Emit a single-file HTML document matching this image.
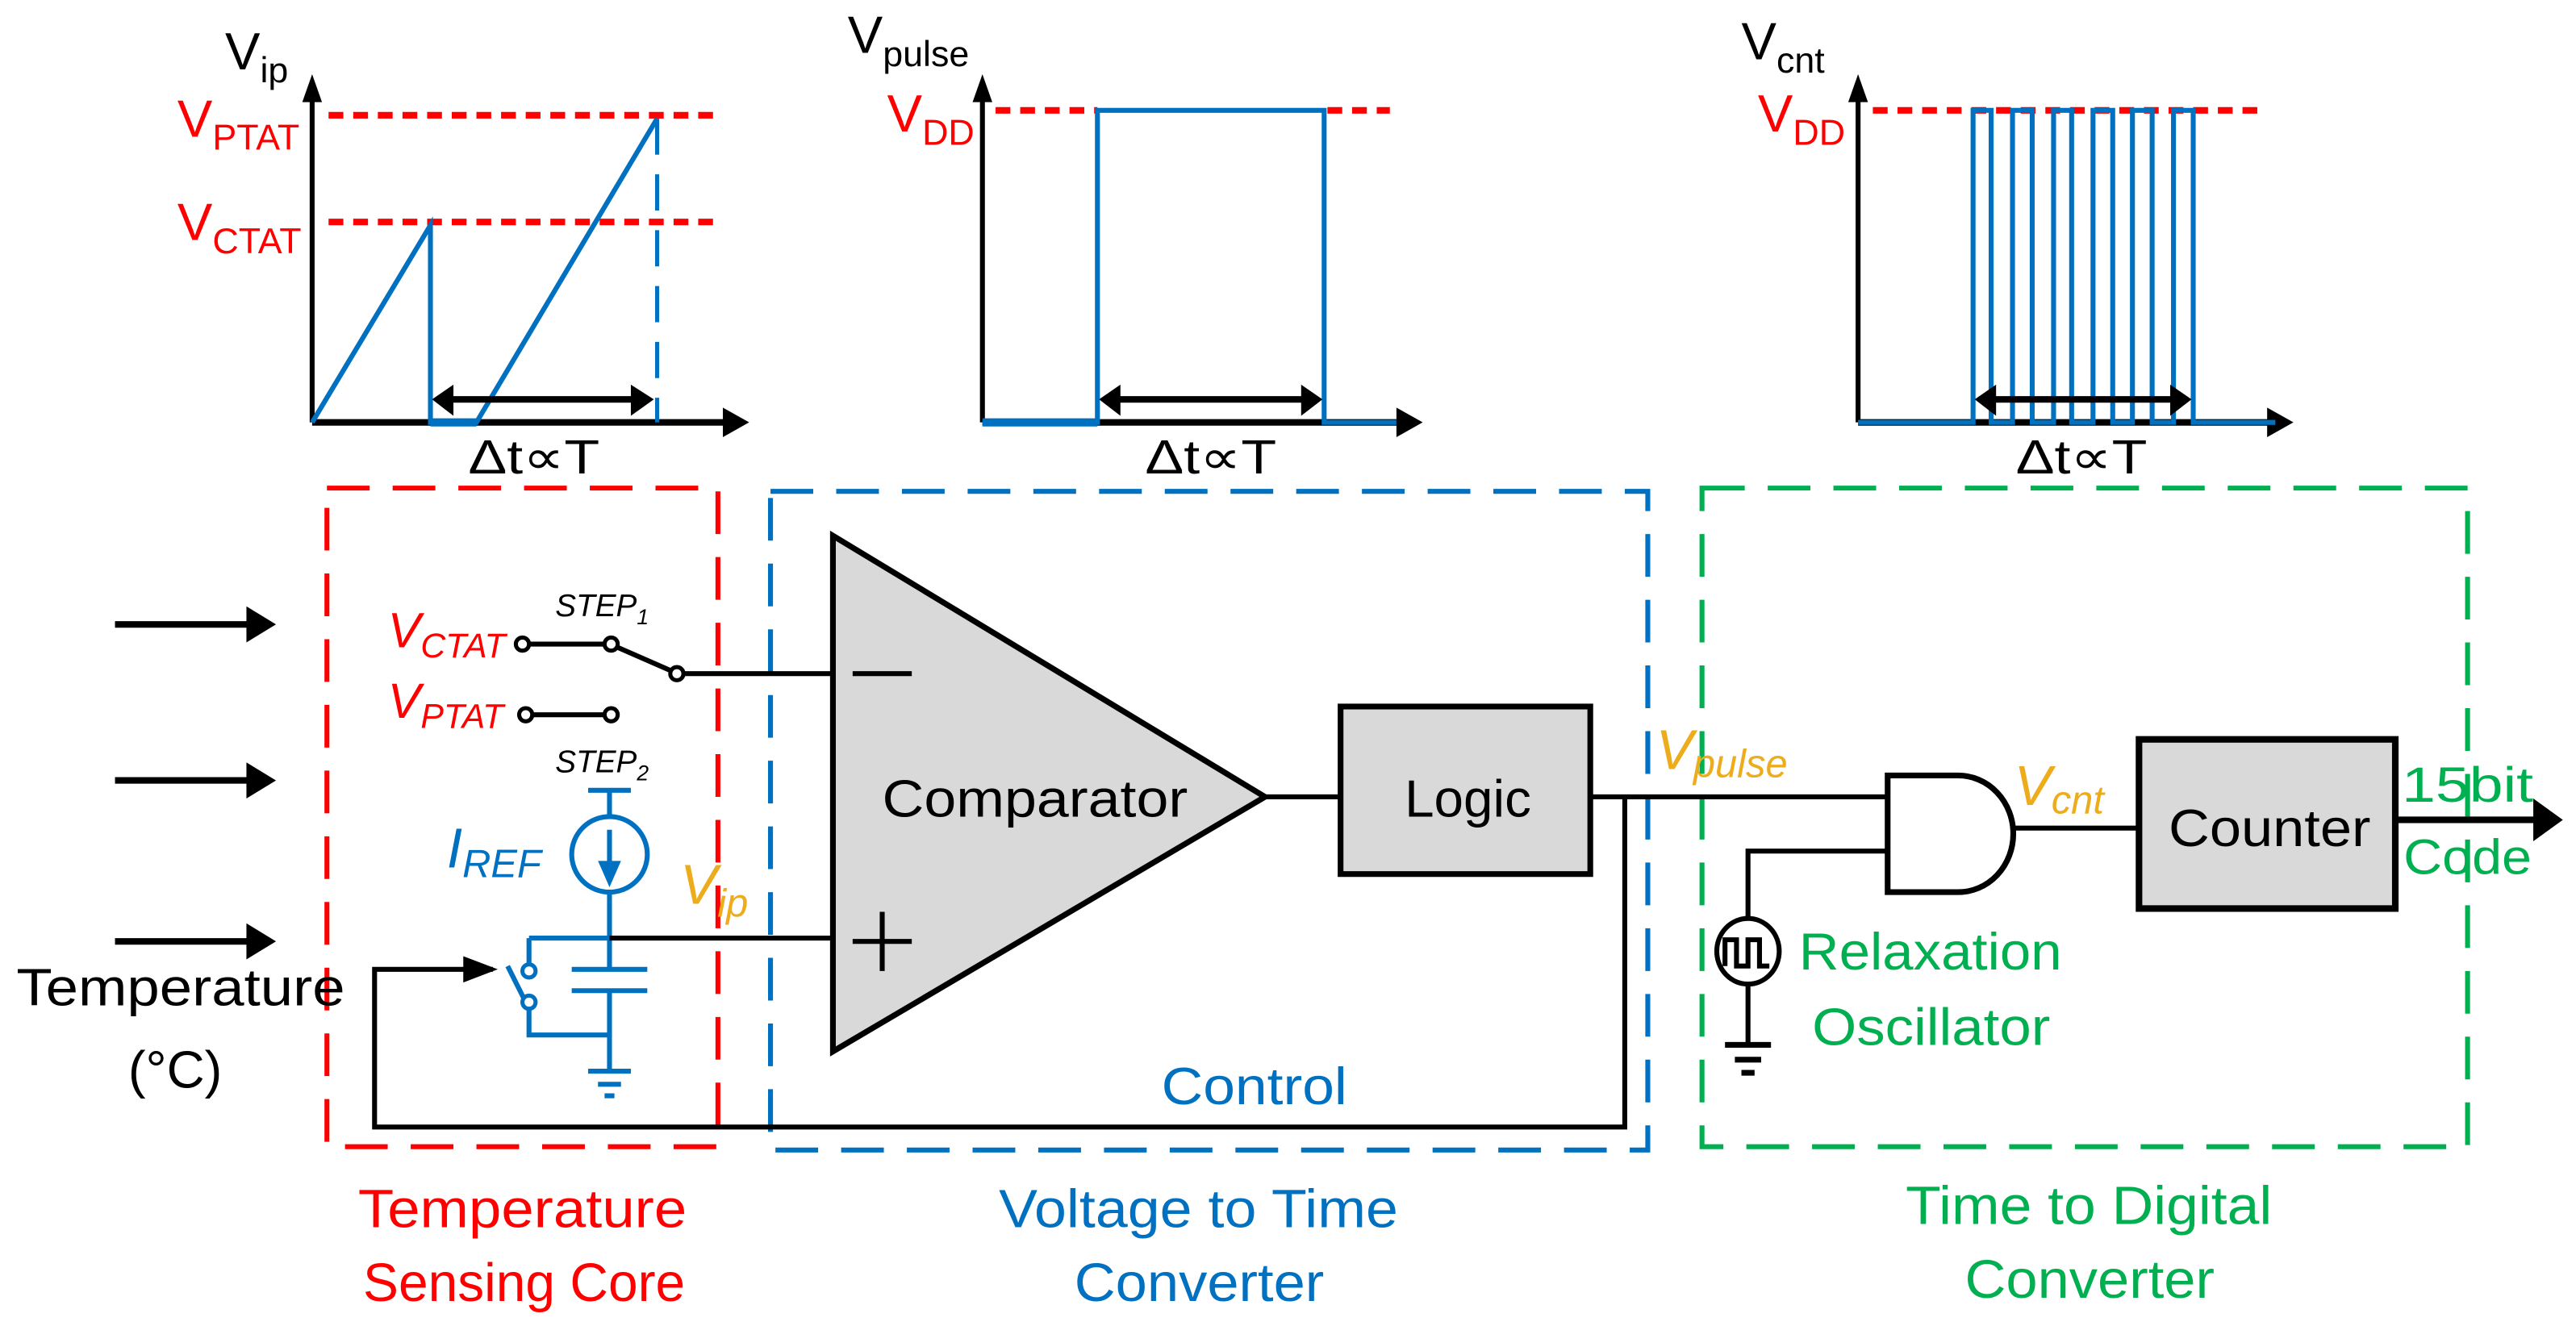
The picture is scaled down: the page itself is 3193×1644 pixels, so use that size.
<!DOCTYPE html>
<html><head><meta charset="utf-8"><style>
html,body{margin:0;padding:0;background:#fff;}
svg{display:block;}
text{font-family:"Liberation Sans",sans-serif;}
</style></head><body>
<svg width="3193" height="1644" viewBox="0 0 1568 807" xmlns="http://www.w3.org/2000/svg">
<g fill="none" stroke-linecap="butt">
<!-- Graph 1 -->
<line x1="190" y1="257" x2="190" y2="58" stroke="#000" stroke-width="3"/>
<path d="M184,62 L190,45 L196,62 z" fill="#000"/>
<line x1="190" y1="257" x2="442" y2="257" stroke="#000" stroke-width="4"/>
<path d="M440,248 L456,257 L440,266 z" fill="#000"/>
<line x1="200" y1="70" x2="437" y2="70" stroke="#f00" stroke-width="4" stroke-dasharray="9,6"/>
<line x1="200" y1="135" x2="437" y2="135" stroke="#f00" stroke-width="4" stroke-dasharray="9,6"/>
<path d="M190,257 L262,137 L262,257 L290,257 L400,72" stroke="#0070c0" stroke-width="3"/>
<line x1="262" y1="257" x2="290" y2="257" stroke="#0070c0" stroke-width="5"/>
<line x1="400" y1="72" x2="400" y2="257" stroke="#0070c0" stroke-width="2.5" stroke-dasharray="22,12"/>
<line x1="272" y1="243" x2="388" y2="243" stroke="#000" stroke-width="4"/>
<path d="M276,234 L263,243 L276,253 z M384,234 L398,243 L384,253 z" fill="#000"/>
<!-- Graph 2 -->
<line x1="598" y1="257" x2="598" y2="58" stroke="#000" stroke-width="3"/>
<path d="M592,62 L598,45 L604,62 z" fill="#000"/>
<line x1="598" y1="257" x2="852" y2="257" stroke="#000" stroke-width="4"/>
<path d="M850,248 L866,257 L850,266 z" fill="#000"/>
<line x1="606" y1="67" x2="668" y2="67" stroke="#f00" stroke-width="4" stroke-dasharray="9,6"/>
<line x1="808" y1="67" x2="846" y2="67" stroke="#f00" stroke-width="4" stroke-dasharray="9,6"/>
<path d="M598,257 L668,257 L668,67 L806,67 L806,257 L850,257" stroke="#0070c0" stroke-width="3"/>
<line x1="598" y1="257" x2="668" y2="257" stroke="#0070c0" stroke-width="5"/>
<line x1="678" y1="243" x2="796" y2="243" stroke="#000" stroke-width="4"/>
<path d="M682,234 L669,243 L682,253 z M792,234 L805,243 L792,253 z" fill="#000"/>
<!-- Graph 3 -->
<line x1="1131" y1="257" x2="1131" y2="58" stroke="#000" stroke-width="3"/>
<path d="M1125,62 L1131,45 L1137,62 z" fill="#000"/>
<line x1="1131" y1="257" x2="1382" y2="257" stroke="#000" stroke-width="4"/>
<path d="M1380,248 L1396,257 L1380,266 z" fill="#000"/>
<line x1="1140" y1="67" x2="1376" y2="67" stroke="#f00" stroke-width="4" stroke-dasharray="9,6"/>
<path d="M1131,257 L1201,257 L1201,67 L1212,67 L1212,257 L1225,257 L1225,67 L1237,67 L1237,257 L1250,257 L1250,67 L1261,67 L1261,257 L1274,257 L1274,67 L1286,67 L1286,257 L1298,257 L1298,67 L1310,67 L1310,257 L1323,257 L1323,67 L1335,67 L1335,257 L1385,257" stroke="#0070c0" stroke-width="3"/>
<line x1="1212" y1="243" x2="1324" y2="243" stroke="#000" stroke-width="4"/>
<path d="M1215,234 L1202,243 L1215,253 z M1321,234 L1334,243 L1321,253 z" fill="#000"/>

<!-- dashed boxes -->
<rect x="199" y="297" width="238" height="401" stroke="#f00" stroke-width="3" stroke-dasharray="26,14"/>
<rect x="469" y="299" width="534" height="401" stroke="#0070c0" stroke-width="3" stroke-dasharray="26,14"/>
<rect x="1036" y="297" width="466" height="401" stroke="#00b050" stroke-width="3" stroke-dasharray="26,14"/>

<!-- left arrows -->
<g stroke="#000" stroke-width="4">
<line x1="70" y1="380" x2="152" y2="380"/><line x1="70" y1="475" x2="152" y2="475"/><line x1="70" y1="573" x2="152" y2="573"/>
</g>
<path d="M150,369 L168,380 L150,391 z M150,464 L168,475 L150,486 z M150,562 L168,573 L150,584 z" fill="#000"/>

<!-- switches -->
<g stroke="#000" stroke-width="3">
<line x1="322" y1="392" x2="368" y2="392"/>
<line x1="376" y1="394" x2="408" y2="408"/>
<line x1="416" y1="410" x2="507" y2="410"/>
<line x1="324" y1="435" x2="368" y2="435"/>
</g>
<g stroke="#000" stroke-width="2.5" fill="#fff">
<circle cx="318" cy="392" r="4"/><circle cx="372" cy="392" r="4"/><circle cx="412" cy="410" r="4"/>
<circle cx="320" cy="435" r="4"/><circle cx="372" cy="435" r="4"/>
</g>
<!-- blue current source & cap -->
<g stroke="#0070c0" stroke-width="3">
<line x1="358" y1="481" x2="384" y2="481"/>
<line x1="371" y1="481" x2="371" y2="497"/>
<circle cx="371" cy="520" r="23"/>
<line x1="371" y1="543" x2="371" y2="590"/>
<line x1="371" y1="603" x2="371" y2="652"/>
<line x1="348" y1="590" x2="394" y2="590"/>
<line x1="348" y1="603" x2="394" y2="603"/>
<path d="M322,571 L371,571 M322,571 L322,588 M322,613 L322,630 L371,630"/>
<line x1="309" y1="588" x2="319" y2="608"/>
<line x1="358" y1="652" x2="384" y2="652"/>
<line x1="364" y1="660" x2="378" y2="660"/>
<line x1="368" y1="667" x2="374" y2="667"/>
</g>
<line x1="371" y1="505" x2="371" y2="528" stroke="#0070c0" stroke-width="3"/>
<path d="M364,524 L378,524 L371,540 z" fill="#0070c0"/>
<g stroke="#0070c0" stroke-width="2.5" fill="#fff"><circle cx="322" cy="591" r="4"/><circle cx="322" cy="610" r="4"/></g>
<line x1="371" y1="571" x2="507" y2="571" stroke="#000" stroke-width="3"/>

<!-- feedback loop -->
<path d="M300,590 L228,590 L228,686 L989,686 L989,485" stroke="#000" stroke-width="3"/>
<path d="M282,582 L303,590 L282,598 z" fill="#000"/>

<!-- comparator -->
<path d="M507,326 L507,640 L770,485 z" fill="#d9d9d9" stroke="#000" stroke-width="3.5" stroke-linejoin="miter"/>
<line x1="519" y1="410" x2="555" y2="410" stroke="#000" stroke-width="3"/>
<line x1="519" y1="573" x2="555" y2="573" stroke="#000" stroke-width="3"/>
<line x1="537" y1="555" x2="537" y2="591" stroke="#000" stroke-width="3"/>
<line x1="770" y1="485" x2="816" y2="485" stroke="#000" stroke-width="3"/>
<rect x="816" y="430" width="152" height="102" fill="#d9d9d9" stroke="#000" stroke-width="3.5"/>
<line x1="968" y1="485" x2="1149" y2="485" stroke="#000" stroke-width="3"/>

<!-- AND gate -->
<path d="M1149,472 L1192,472 A33,35 0 0 1 1192,543 L1149,543 z" fill="#fff" stroke="#000" stroke-width="3.5"/>
<line x1="1225" y1="504" x2="1302" y2="504" stroke="#000" stroke-width="3"/>
<path d="M1149,518 L1064,518 L1064,559" stroke="#000" stroke-width="3"/>
<ellipse cx="1064" cy="579" rx="19" ry="20" fill="#fff" stroke="#000" stroke-width="3"/>
<path d="M1050,588 L1050,572 L1057,572 L1057,588 L1064,588 L1064,572 L1071,572 L1071,588 L1077,588" stroke="#000" stroke-width="3"/>
<path d="M1064,599 L1064,636" stroke="#000" stroke-width="3"/>
<g stroke="#000" stroke-width="3.5"><line x1="1050" y1="636" x2="1078" y2="636"/><line x1="1056" y1="645" x2="1072" y2="645"/><line x1="1060" y1="653" x2="1068" y2="653"/></g>
<rect x="1302" y="450" width="156" height="103" fill="#d9d9d9" stroke="#000" stroke-width="4"/>
<line x1="1458" y1="499" x2="1545" y2="499" stroke="#000" stroke-width="4"/>
<path d="M1542,486 L1560,499 L1542,512 z" fill="#000"/>
</g>

<!-- text -->
<g font-size="30">
<text x="137" y="42" fill="#000" font-size="32">V<tspan font-size="22" dy="8">ip</tspan></text>
<text x="108" y="83" fill="#f00" font-size="32">V<tspan font-size="22" dy="8">PTAT</tspan></text>
<text x="108" y="146" fill="#f00" font-size="32">V<tspan font-size="22" dy="8">CTAT</tspan></text>
<text x="516" y="32" fill="#000" font-size="32">V<tspan font-size="22" dy="8">pulse</tspan></text>
<text x="540" y="80" fill="#f00" font-size="32">V<tspan font-size="22" dy="8">DD</tspan></text>
<text x="1060" y="36" fill="#000" font-size="32">V<tspan font-size="22" dy="8">cnt</tspan></text>
<text x="1070" y="80" fill="#f00" font-size="32">V<tspan font-size="22" dy="8">DD</tspan></text>
<text x="285" y="288" font-size="29" textLength="80" lengthAdjust="spacingAndGlyphs">Δt∝T</text>
<text x="697" y="288" font-size="29" textLength="80" lengthAdjust="spacingAndGlyphs">Δt∝T</text>
<text x="1227" y="288" font-size="29" textLength="80" lengthAdjust="spacingAndGlyphs">Δt∝T</text>

<text x="10" y="612" font-size="32" textLength="200" lengthAdjust="spacingAndGlyphs">Temperature</text>
<text x="78" y="662" font-size="32">(°C)</text>
<text x="236" y="394" fill="#f00" font-style="italic">V<tspan font-size="21" dy="6">CTAT</tspan></text>
<text x="236" y="437" fill="#f00" font-style="italic">V<tspan font-size="21" dy="6">PTAT</tspan></text>
<text x="338" y="375" font-size="19" font-style="italic">STEP<tspan font-size="13" dy="5">1</tspan></text>
<text x="338" y="470" font-size="19" font-style="italic">STEP<tspan font-size="13" dy="5">2</tspan></text>
<text x="272" y="528" fill="#0070c0" font-size="34" font-style="italic">I<tspan font-size="24" dy="6">REF</tspan></text>
<text x="414" y="550" fill="#ecac1c" font-size="34" font-style="italic">V<tspan font-size="24" dy="8">ip</tspan></text>
<text x="537" y="497" font-size="32" textLength="186" lengthAdjust="spacingAndGlyphs">Comparator</text>
<text x="855" y="497" font-size="32" textLength="77" lengthAdjust="spacingAndGlyphs">Logic</text>
<text x="1008" y="468" fill="#ecac1c" font-size="34" font-style="italic">V<tspan font-size="24" dy="5">pulse</tspan></text>
<text x="1226" y="490" fill="#ecac1c" font-size="34" font-style="italic">V<tspan font-size="24" dy="5">cnt</tspan></text>
<text x="1320" y="515" font-size="32" textLength="123" lengthAdjust="spacingAndGlyphs">Counter</text>
<text x="1462" y="488" fill="#00b050" font-size="30" textLength="80" lengthAdjust="spacingAndGlyphs">15bit</text>
<text x="1463" y="532" fill="#00b050" font-size="30" textLength="78" lengthAdjust="spacingAndGlyphs">Code</text>
<text x="1095" y="590" fill="#00b050" font-size="32" textLength="160" lengthAdjust="spacingAndGlyphs">Relaxation</text>
<text x="1103" y="636" fill="#00b050" font-size="32" textLength="145" lengthAdjust="spacingAndGlyphs">Oscillator</text>
<text x="707" y="672" fill="#0070c0" font-size="32" textLength="113" lengthAdjust="spacingAndGlyphs">Control</text>
<g font-size="33">
<text x="218" y="747" fill="#f00" textLength="200" lengthAdjust="spacingAndGlyphs">Temperature</text>
<text x="221" y="792" fill="#f00" textLength="196" lengthAdjust="spacingAndGlyphs">Sensing Core</text>
<text x="608" y="747" fill="#0070c0" textLength="243" lengthAdjust="spacingAndGlyphs">Voltage to Time</text>
<text x="654" y="792" fill="#0070c0" textLength="152" lengthAdjust="spacingAndGlyphs">Converter</text>
<text x="1160" y="745" fill="#00b050" textLength="223" lengthAdjust="spacingAndGlyphs">Time to Digital</text>
<text x="1196" y="790" fill="#00b050" textLength="152" lengthAdjust="spacingAndGlyphs">Converter</text>
</g>
</g>
</svg>
</body></html>
